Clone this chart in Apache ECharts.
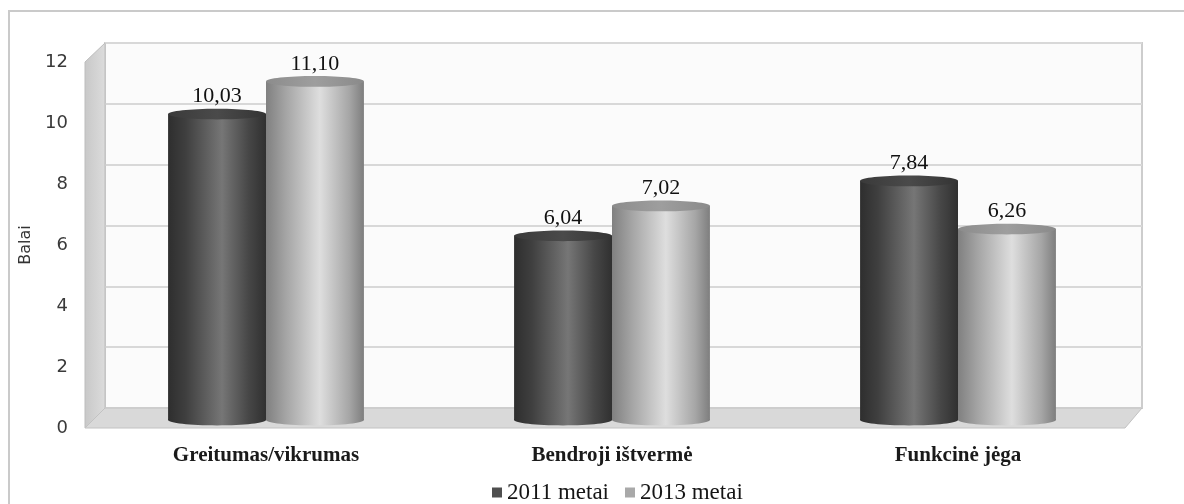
<!DOCTYPE html>
<html>
<head>
<meta charset="utf-8">
<script src="https://cdn.jsdelivr.net/npm/echarts@6/dist/echarts.min.js"></script>
<style>
  html, body { margin: 0; padding: 0; background: #ffffff; }
  #chart { width: 1184px; height: 504px; }
</style>
</head>
<body>
<div id="chart"></div>
<script>
// Fitness test scores (Balai) by test group, 2011 vs 2013
const categories = ['Greitumas/vikrumas', 'Bendroji ištvermė', 'Funkcinė jėga'];
const values2011 = [10.03, 6.04, 7.84];
const values2013 = [11.10, 7.02, 6.26];
const seriesNames = ['2011 metai', '2013 metai'];
const yMin = 0;
const yMax = 12;
const yStep = 2;

// 3D box layout: front plane, back wall and the depth where the cylinders stand
const W = 1184, H = 504;
const FRONT = { left: 85, right: 1125, top: 62, bottom: 428 };
const BACK = { left: 105, right: 1142, top: 43, bottom: 408 };
const MID = { left: 93, right: 1131, top: 54, bottom: 420 };

const SERIF = '"Liberation Serif", "Times New Roman", serif';
const SANS = '"DejaVu Sans", sans-serif';

const BAR_RATIO = 0.283; // one cylinder's share of a category band

const palettes = [
  {
    legend: '#4f4f4f',
    body: [[0, '#2e2e2e'], [0.18, '#3f3f3f'], [0.55, '#767676'], [0.82, '#474747'], [1, '#303030']],
    cap: [[0, '#3a3a3a'], [0.5, '#4a4a4a'], [1, '#343434']]
  },
  {
    legend: '#a9a9a9',
    body: [[0, '#808080'], [0.2, '#a4a4a4'], [0.55, '#dedede'], [0.85, '#a6a6a6'], [1, '#7e7e7e']],
    cap: [[0, '#8c8c8c'], [0.5, '#9e9e9e'], [1, '#8a8a8a']]
  }
];

function grad(stops) {
  return new echarts.graphic.LinearGradient(0, 0, 1, 0,
    stops.map(function (s) { return { offset: s[0], color: s[1] }; }));
}

function fmt(v) { return v.toFixed(2).replace('.', ','); }

function cylinderRenderer(idx) {
  const pal = palettes[idx];
  return function (params, api) {
    const cat = api.value(0);
    const val = api.value(1);
    const topPt = api.coord([cat, val]);
    const basePt = api.coord([cat, 0]);
    const band = api.size([1, 0])[0];
    const w = band * BAR_RATIO;
    const x0 = idx === 0 ? topPt[0] - w : topPt[0];
    const rx = w / 2;
    const ry = w * 0.055;
    const cx = x0 + rx;
    return {
      type: 'group',
      children: [
        { type: 'ellipse', shape: { cx: cx, cy: basePt[1], rx: rx, ry: ry },
          style: { fill: grad(pal.body) } },
        { type: 'rect', shape: { x: x0, y: topPt[1], width: w, height: basePt[1] - topPt[1] },
          style: { fill: grad(pal.body) } },
        { type: 'ellipse', shape: { cx: cx, cy: topPt[1], rx: rx, ry: ry },
          style: { fill: grad(pal.cap) } },
        { type: 'text', x: cx, y: topPt[1] - ry - 1,
          style: { text: fmt(val), font: '22px ' + SERIF, fill: '#111111',
                   align: 'center', verticalAlign: 'bottom' } }
      ]
    };
  };
}

function pairs(values) {
  return values.map(function (v, i) { return [i, v]; });
}

const hiddenCat = { type: 'category', data: categories, show: false };
const hiddenVal = { type: 'value', min: yMin, max: yMax, interval: yStep, show: false };

const option = {
  backgroundColor: '#ffffff',
  animation: false,
  grid: [
    { // back wall
      left: BACK.left, right: W - BACK.right, top: BACK.top, bottom: H - BACK.bottom,
      show: true, backgroundColor: '#fbfbfb', borderColor: '#cdcdcd', borderWidth: 2
    },
    { // front plane (value labels)
      left: FRONT.left, right: W - FRONT.right, top: FRONT.top, bottom: H - FRONT.bottom
    },
    { // cylinder plane
      left: MID.left, right: W - MID.right, top: MID.top, bottom: H - MID.bottom
    }
  ],
  xAxis: [
    Object.assign({ gridIndex: 0 }, hiddenCat),
    Object.assign({ gridIndex: 1 }, hiddenCat),
    {
      type: 'category', gridIndex: 2, data: categories,
      axisLine: { show: false }, axisTick: { show: false },
      axisLabel: { margin: 25, fontFamily: SERIF, fontSize: 21, fontWeight: 'bold', color: '#1a1a1a' }
    }
  ],
  yAxis: [
    {
      type: 'value', gridIndex: 0, min: yMin, max: yMax, interval: yStep,
      axisLine: { show: false }, axisTick: { show: false }, axisLabel: { show: false },
      splitLine: { show: true, lineStyle: { color: '#d8d8d8', width: 2 } }
    },
    {
      type: 'value', gridIndex: 1, min: yMin, max: yMax, interval: yStep,
      axisLine: { show: false }, axisTick: { show: false }, splitLine: { show: false },
      axisLabel: { margin: 17, fontFamily: SANS, fontSize: 18, color: '#3a3a3a' },
      name: 'Balai', nameLocation: 'middle', nameGap: 47, nameRotate: 90,
      nameTextStyle: { fontFamily: SANS, fontSize: 16, color: '#333333' }
    },
    Object.assign({ gridIndex: 2 }, hiddenVal)
  ],
  legend: {
    left: 487, top: 476,
    itemWidth: 10, itemHeight: 10, itemGap: 16,
    icon: 'rect',
    textStyle: { fontFamily: SERIF, fontSize: 23, color: '#151515' },
    data: seriesNames
  },
  graphic: [
    { // outer frame
      type: 'rect', z: 0, silent: true,
      shape: { x: 9, y: 11, width: W, height: H },
      style: { fill: 'none', stroke: '#cacaca', lineWidth: 2 }
    },
    { // left side wall
      type: 'polygon', z: 1, silent: true,
      shape: { points: [[FRONT.left, FRONT.top], [BACK.left, BACK.top], [BACK.left, BACK.bottom], [FRONT.left, FRONT.bottom]] },
      style: {
        fill: new echarts.graphic.LinearGradient(0, 0, 1, 0, [
          { offset: 0, color: '#c8c8c8' }, { offset: 1, color: '#dcdcdc' }
        ]),
        stroke: '#bdbdbd', lineWidth: 1
      }
    },
    { // floor
      type: 'polygon', z: 1, silent: true,
      shape: { points: [[FRONT.left, FRONT.bottom], [BACK.left, BACK.bottom], [BACK.right, BACK.bottom], [FRONT.right, FRONT.bottom]] },
      style: { fill: '#d9d9d9', stroke: '#c2c2c2', lineWidth: 1 }
    }
  ],
  series: [
    {
      name: seriesNames[0], type: 'custom', xAxisIndex: 2, yAxisIndex: 2, z: 3,
      itemStyle: { color: palettes[0].legend },
      encode: { x: 0, y: 1 },
      renderItem: cylinderRenderer(0),
      data: pairs(values2011)
    },
    {
      name: seriesNames[1], type: 'custom', xAxisIndex: 2, yAxisIndex: 2, z: 3,
      itemStyle: { color: palettes[1].legend },
      encode: { x: 0, y: 1 },
      renderItem: cylinderRenderer(1),
      data: pairs(values2013)
    }
  ]
};

const chart = echarts.init(document.getElementById('chart'), null, { renderer: 'canvas' });
chart.setOption(option);
</script>
</body>
</html>
